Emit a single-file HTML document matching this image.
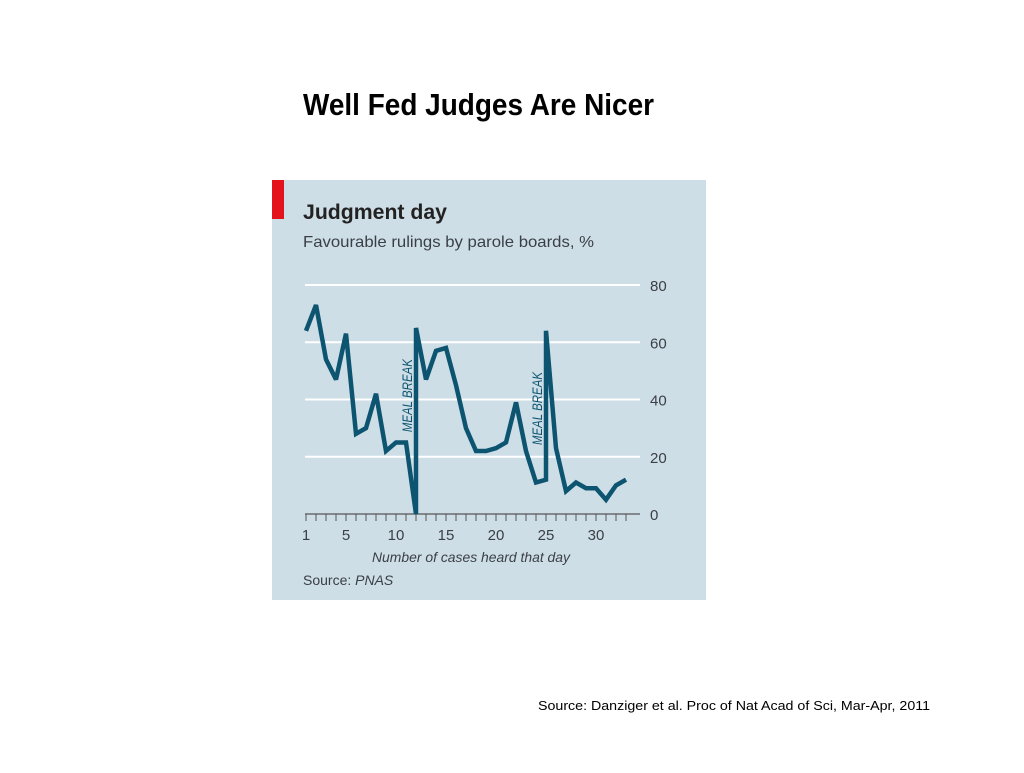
<!DOCTYPE html>
<html><head><meta charset="utf-8"><style>
body{margin:0;background:#fff;}
svg text{font-family:"Liberation Sans",sans-serif;}
</style></head><body>
<svg width="1024" height="768" viewBox="0 0 1024 768">
<rect width="1024" height="768" fill="#fff"/>
<text x="303" y="115" font-size="31" font-weight="bold" textLength="351" lengthAdjust="spacingAndGlyphs" fill="#000">Well Fed Judges Are Nicer</text>
<rect x="272" y="180" width="434" height="420" fill="#cedee7"/>
<rect x="272" y="180" width="12" height="39" fill="#e3121b"/>
<text x="303" y="219" font-size="21" font-weight="bold" fill="#222" textLength="144" lengthAdjust="spacingAndGlyphs">Judgment day</text>
<text x="303" y="247" font-size="16" fill="#3a3f45" textLength="291" lengthAdjust="spacingAndGlyphs">Favourable rulings by parole boards, %</text>
<g id="grid"></g>
<g id="axis"></g>
<g id="marks"></g>
<text x="372" y="562" font-size="14" font-style="italic" fill="#3a3f45" textLength="198" lengthAdjust="spacingAndGlyphs">Number of cases heard that day</text>
<text x="303" y="585" font-size="14" fill="#3a3f45">Source: <tspan font-style="italic">PNAS</tspan></text>
<text x="538" y="710" font-size="13" fill="#000" textLength="392" lengthAdjust="spacingAndGlyphs">Source: Danziger et al. Proc of Nat Acad of Sci, Mar-Apr, 2011</text>
</svg>
<script>
const cases=[1,2,3,4,5,6,7,8,9,10,11,12,12,13,14,15,16,17,18,19,20,21,22,23,24,25,25,26,27,28,29,30,31,32,33];
const values=[64,73,54,47,63,28,30,42,22,25,25,0,65,47,57,58,45,30,22,22,23,25,39,22,11,12,64,23,8,11,9,9,5,10,12];
const yTicks=[0,20,40,60,80];
const xTickLabels=[1,5,10,15,20,25,30];
const mealBreaks=[{c:12,from:0,to:60,labelBase:28.6},{c:25,from:12,to:55,labelBase:24.1}];
const maxCase=33;

const NS="http://www.w3.org/2000/svg";
const X=c=>296+10*c;
const Y=v=>514-v*(229/80);
function mk(t,a,p){const e=document.createElementNS(NS,t);for(const k in a)e.setAttribute(k,a[k]);p.appendChild(e);return e;}
const grid=document.getElementById('grid'),axis=document.getElementById('axis'),marks=document.getElementById('marks');
yTicks.forEach(v=>{
  if(v>0){const l=mk('line',{x1:305,x2:640,y1:Y(v),y2:Y(v),stroke:'#fff','stroke-width':2},grid);
  
  }
  const t=mk('text',{x:650,y:Y(v)+6,'font-size':15,fill:'#3a3f45'},grid);t.textContent=v;
  
  
});
const al=mk('line',{x1:305,x2:640,y1:514,y2:514,stroke:'#555','stroke-width':1.3},axis);


for(let c=1;c<=maxCase;c++){
  const tk=mk('line',{x1:X(c),x2:X(c),y1:514,y2:521,stroke:'#555','stroke-width':1},axis);
  
  
}
xTickLabels.forEach(c=>{
  const t=mk('text',{x:X(c),y:540,'font-size':15,fill:'#3a3f45','text-anchor':'middle'},axis);t.textContent=c;
  
  
});
mealBreaks.forEach((m,i)=>{
  const l=mk('line',{x1:X(m.c),x2:X(m.c),y1:Y(m.from),y2:Y(m.to),stroke:'#0d5470','stroke-width':1.5,'stroke-dasharray':'3,2'},marks);
  
  
  const tx=X(m.c)-4,ty=Y(m.labelBase);
  const t=mk('text',{x:tx,y:ty,'font-size':14,'font-style':'italic',fill:'#0d5470',transform:`rotate(-90 ${tx} ${ty})`,textLength:73,lengthAdjust:'spacingAndGlyphs'},marks);
  t.textContent='MEAL BREAK';
  
  
});
const pts=cases.map((c,i)=>X(c)+','+Y(values[i])).join(' ');
const pl=mk('polyline',{points:pts,fill:'none',stroke:'#0d5470','stroke-width':4.5,'stroke-linejoin':'miter','stroke-miterlimit':3},marks);


</script>
</body></html>
